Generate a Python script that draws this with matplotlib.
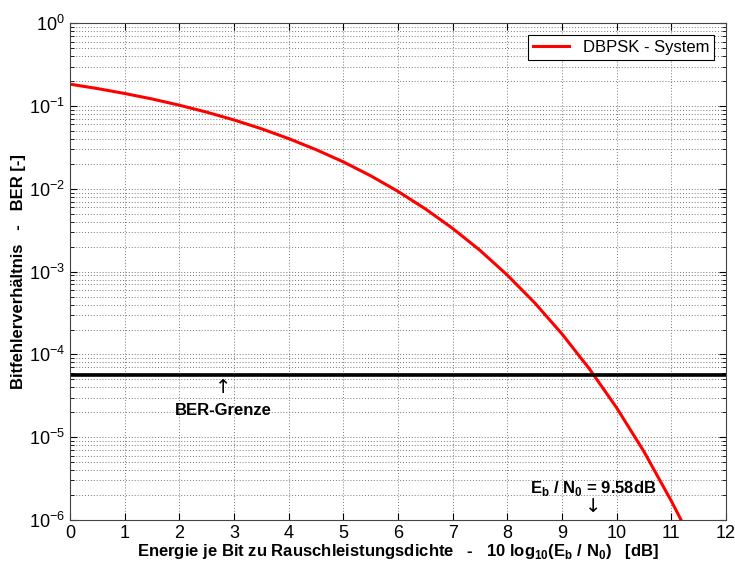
import matplotlib
matplotlib.use("Agg")
import matplotlib.pyplot as plt

plt.rcParams['font.family'] = ['Liberation Sans', 'DejaVu Sans']
plt.rcParams['mathtext.fontset'] = 'custom'
plt.rcParams['mathtext.rm'] = 'Liberation Sans'
plt.rcParams['mathtext.bf'] = 'Liberation Sans:bold'

# Eb/N0 in dB and read-off BER values
ebn0_db = [0, 0.5, 1, 1.5, 2, 2.5, 3, 3.5, 4, 4.5, 5, 5.5, 6, 6.5, 7, 7.5,
           8, 8.5, 9, 9.5, 10, 10.5, 11, 11.2]
ber = [0.184, 0.163, 0.142, 0.122, 0.1025, 0.0845, 0.068, 0.0533, 0.0405,
       0.0298, 0.0212, 0.0144, 0.00933, 0.00574, 0.00333, 0.00181, 0.000909,
       0.000421, 0.000177, 6.72e-5, 2.27e-5, 6.7e-6, 1.7e-6, 9.4e-7]
ber_limit = 5.7e-5
ebn0_limit = 9.58
xticks = list(range(0, 13))

fig = plt.figure(figsize=(7.35, 5.67), dpi=100)
ax = fig.add_axes([0.0952, 0.0829, 0.8925, 0.876])

ax.semilogy(ebn0_db, ber, color='red', lw=2.2, label='DBPSK - System')
ax.axhline(ber_limit, color='black', lw=2.6)

ax.set_xlim(0, 12)
ax.set_ylim(1e-6, 1)
ax.set_xticks(xticks)
ax.set_yticks([10.0**k for k in range(-6, 1)])
ax.grid(True, which='major', ls=(0, (1, 2)), color='#777777', lw=0.7)
ax.grid(True, which='minor', ls=(0, (1, 2)), color='#777777', lw=0.7)
ax.tick_params(which='both', direction='in', top=True, right=True, labelsize=13)
ax.tick_params(which='major', length=5)
ax.tick_params(which='minor', length=3)
for s in ax.spines.values():
    s.set_color('#444444')

ax.set_xlabel(r'Energie je Bit zu Rauschleistungsdichte   -   10 log$_{\mathbf{10}}$(E$_\mathbf{b}$ / N$_\mathbf{0}$)   [dB]',
              fontsize=12, fontweight='bold', labelpad=0)
ax.set_ylabel('Bitfehlerverhältnis   -   BER [-]', fontsize=12, fontweight='bold', labelpad=2)

ax.text(2.8, 4.0e-5, '↑', ha='center', va='center', fontsize=14, family='DejaVu Sans', zorder=5)
ax.text(2.8, 2.1e-5, 'BER-Grenze', ha='center', va='center', fontsize=12, fontweight='bold')
ax.text(ebn0_limit, 2.4e-6, r'E$_\mathbf{b}$ / N$_\mathbf{0}$ = 9.58dB', ha='center', va='center',
        fontsize=12, fontweight='bold')
ax.text(ebn0_limit, 1.45e-6, '↓', ha='center', va='center', fontsize=14, family='DejaVu Sans')

leg = ax.legend(loc='upper right', fontsize=12, fancybox=False, framealpha=1,
                edgecolor='black', borderaxespad=0.7, handlelength=2.2,
                borderpad=0.3)
leg.get_frame().set_linewidth(0.8)

fig.savefig('out.png', dpi=100)
